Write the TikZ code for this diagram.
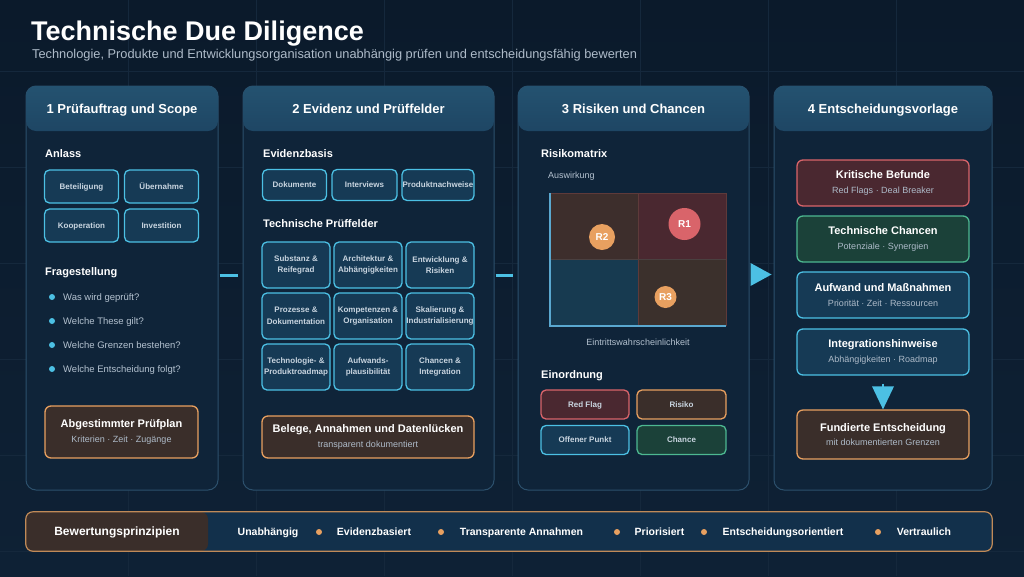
\documentclass[tikz,border=0pt]{standalone}
\usepackage{fontspec}
\setmainfont{Liberation Sans}
\usetikzlibrary{arrows.meta,calc}
\definecolor{bgtop}{HTML}{0B1A2B}
\definecolor{bgbot}{HTML}{0E2135}
\definecolor{gridc}{HTML}{15283C}
\definecolor{panelfill}{HTML}{0F2439}
\definecolor{panelborder}{HTML}{2C506C}
\definecolor{headtop}{HTML}{245270}
\definecolor{headbot}{HTML}{1E4664}
\definecolor{cyanc}{HTML}{4CC0E4}
\definecolor{cyanfill}{HTML}{163A55}
\definecolor{orangec}{HTML}{E8A060}
\definecolor{orangefill}{HTML}{3A2E2A}
\definecolor{redc}{HTML}{D9646A}
\definecolor{redfill}{HTML}{4A2830}
\definecolor{greenc}{HTML}{4DB891}
\definecolor{greenfill}{HTML}{1B4139}
\definecolor{txtgray}{HTML}{B4C2D0}
\definecolor{boxtxt}{HTML}{C9D5E0}
\definecolor{subgray}{HTML}{AEBBC9}
\definecolor{barfill}{HTML}{12304B}
\definecolor{barborder}{HTML}{C08A58}
\definecolor{qtl}{HTML}{3D2E2C}
\definecolor{qbl}{HTML}{173A50}
\definecolor{qbr}{HTML}{3B302C}
\definecolor{qline}{HTML}{5E3A3A}
\definecolor{qmid}{HTML}{4A4040}
\definecolor{axisc}{HTML}{5AA8D0}
\newcommand\fsz[2]{\fontsize{#1}{#2}\selectfont}
\begin{document}
\begin{tikzpicture}[x=1pt,y=-1pt,
  panel/.style={draw=panelborder,line width=1pt,fill=panelfill,rounded corners=10pt,minimum width=#1,minimum height=404pt,inner sep=0pt},
  headband/.style={top color=headtop,bottom color=headbot,rounded corners=10pt,minimum width=#1,minimum height=45pt,inner sep=0pt,text=white,font=\fsz{13}{15}\bfseries,text height=9.4pt,text depth=0pt},
  hd/.style={anchor=west,text=white,font=\fsz{11}{13}\bfseries,inner sep=0pt,text height=8pt,text depth=0pt},
  smallbox/.style={draw=cyanc,line width=1.3pt,fill=cyanfill,rounded corners=5pt,inner sep=0pt,text=boxtxt,font=\fsz{8}{11.5}\bfseries,align=center},
  oneline/.style={text height=5.8pt,text depth=0pt},
  tagbox/.style={line width=1.3pt,rounded corners=5pt,inner sep=0pt,text=boxtxt,font=\fsz{8}{10}\bfseries,minimum height=29pt,text height=5.8pt,text depth=0pt},
  bigbox/.style={line width=1.3pt,rounded corners=6pt,inner sep=0pt,text=subgray,font=\fsz{9}{14.5},align=center},
  bullet/.style={circle,fill=cyanc,inner sep=0pt,minimum size=6pt},
  btext/.style={anchor=west,text=txtgray,font=\fsz{9.5}{11},inner sep=0pt,text height=6.9pt,text depth=0pt},
  conn/.style={draw=cyanc,line width=3pt},
  marker/.style={circle,inner sep=0pt,text=white,font=\fsz{10}{12}\bfseries},
  item/.style={text=white,font=\fsz{10.5}{12}\bfseries,inner sep=0pt,text height=7.6pt,text depth=0pt},
  odot/.style={circle,fill=orangec,inner sep=0pt,minimum size=6pt}
]
\useasboundingbox (0,0) rectangle (1024,576);
\fill[top color=bgtop,bottom color=bgbot] (0,0) rectangle (1024,576);
\foreach \x in {128,256,...,896} \draw[gridc,line width=0.8pt] (\x,0) -- (\x,576);
\foreach \y in {71,167,263,359,455,551} \draw[gridc,line width=0.8pt] (0,\y) -- (1024,\y);

% title
\node[anchor=base west,inner sep=0pt,text=white,font=\fsz{27}{29}\bfseries] (title) at (31,40) {Technische Due Diligence};
\node[anchor=base west,inner sep=0pt,text=subgray,font=\fsz{12.8}{15}] (subtitle) at (32,58.5) {Technologie, Produkte und Entwicklungsorganisation unabhängig prüfen und entscheidungsfähig bewerten};

% panels
\node[panel=192pt] (p1) at (122,288) {};
\node[panel=251pt] (p2) at (368.5,288) {};
\node[panel=231pt] (p3) at (633.5,288) {};
\node[panel=218pt] (p4) at (883,288) {};
\node[headband=192pt] (h1) at (122,108.5) {1 Prüfauftrag und Scope};
\node[headband=251pt] (h2) at (368.5,108.5) {2 Evidenz und Prüffelder};
\node[headband=231pt] (h3) at (633.5,108.5) {3 Risiken und Chancen};
\node[headband=218pt] (h4) at (883,108.5) {4 Entscheidungsvorlage};

% column 1
\node[hd] (anlass) at (45,153) {Anlass};
\node[smallbox,oneline,minimum width=74pt,minimum height=33pt] (b11) at (81.5,186.5) {Beteiligung};
\node[smallbox,oneline,minimum width=74pt,minimum height=33pt] (b12) at (161.5,186.5) {Übernahme};
\node[smallbox,oneline,minimum width=74pt,minimum height=33pt] (b13) at (81.5,225.5) {Kooperation};
\node[smallbox,oneline,minimum width=74pt,minimum height=33pt] (b14) at (161.5,225.5) {Investition};
\node[hd] (frage) at (45,271) {Fragestellung};
\foreach \y/\t [count=\i] in {297/Was wird geprüft?,321/Welche These gilt?,345/Welche Grenzen bestehen?,369/Welche Entscheidung folgt?}{
  \node[bullet] (d\i) at (52,\y) {};
  \node[btext] (q\i) at (63,\y) {\t};
}
\node[bigbox,draw=orangec,fill=orangefill,minimum width=153pt,minimum height=52pt] (plan) at (121.5,432)
  {{\fsz{11}{14.5}\bfseries\color{white}Abgestimmter Prüfplan}\\Kriterien · Zeit · Zugänge};

% column 2
\node[hd] (evid) at (263,153) {Evidenzbasis};
\node[smallbox,oneline,minimum width=64pt,minimum height=31pt] (e1) at (294.5,185) {Dokumente};
\node[smallbox,oneline,minimum width=65pt,minimum height=31pt] (e2) at (364.5,185) {Interviews};
\node[smallbox,oneline,minimum width=72pt,minimum height=31pt] (e3) at (438,185) {Produktnachweise};
\node[hd] (tpf) at (263,223) {Technische Prüffelder};
\foreach \x/\y/\t [count=\i] in {
  296/265/{Substanz \&\\Reifegrad},
  368/265/{Architektur \&\\Abhängigkeiten},
  440/265/{Entwicklung \&\\Risiken},
  296/316/{Prozesse \&\\Dokumentation},
  368/316/{Kompetenzen \&\\Organisation},
  440/316/{Skalierung \&\\Industrialisierung},
  296/367/{Technologie- \&\\Produktroadmap},
  368/367/{Aufwands-\\plausibilität},
  440/367/{Chancen \&\\Integration}}{
  \node[smallbox,minimum width=68pt,minimum height=46pt] (g\i) at (\x,\y) {\t};
}
\node[bigbox,draw=orangec,fill=orangefill,minimum width=212pt,minimum height=42pt] (belege) at (368,437)
  {{\fsz{11}{14}\bfseries\color{white}Belege, Annahmen und Datenlücken}\\transparent dokumentiert};

% column 3
\node[hd] (rm) at (541,153) {Risikomatrix};
\node[anchor=west,inner sep=0pt,text=txtgray,font=\fsz{9}{11},text height=6.5pt,text depth=0pt] (ausw) at (548,175) {Auswirkung};
\fill[qtl] (550,193) rectangle (638,259);
\fill[redfill] (638,193) rectangle (726,259);
\fill[qbl] (550,259) rectangle (638,326);
\fill[qbr] (638,259) rectangle (726,326);
\draw[qline,line width=0.8pt] (550,193) -- (726,193) -- (726,326);
\draw[qline,line width=0.8pt] (638,193) -- (638,326);
\draw[qmid,line width=0.8pt] (550,259) -- (726,259);
\draw[axisc,line width=1.2pt] (550,193) -- (550,326) -- (726,326);
\node[marker,fill=redc,minimum size=32pt] (r1) at (684.5,224) {R1};
\node[marker,fill=orangec,minimum size=26pt] (r2) at (602,237) {R2};
\node[marker,fill=orangec,minimum size=22pt] (r3) at (665.5,297) {R3};
\node[inner sep=0pt,text=txtgray,font=\fsz{9}{11},text height=6.5pt,text depth=0pt] (eintr) at (638,342) {Eintrittswahrscheinlichkeit};
\node[hd] (einord) at (541,374) {Einordnung};
\node[tagbox,draw=redc,fill=redfill,minimum width=88pt] (t1) at (585,404.5) {Red Flag};
\node[tagbox,draw=orangec,fill=orangefill,minimum width=89pt] (t2) at (681.5,404.5) {Risiko};
\node[tagbox,draw=cyanc,fill=cyanfill,minimum width=88pt] (t3) at (585,440) {Offener Punkt};
\node[tagbox,draw=greenc,fill=greenfill,minimum width=89pt] (t4) at (681.5,440) {Chance};

% column 4
\node[bigbox,draw=redc,fill=redfill,minimum width=172pt,minimum height=46pt] (k1) at (883,183)
  {{\fsz{11}{14}\bfseries\color{white}Kritische Befunde}\\Red Flags · Deal Breaker};
\node[bigbox,draw=greenc,fill=greenfill,minimum width=172pt,minimum height=46pt] (k2) at (883,239)
  {{\fsz{11}{14}\bfseries\color{white}Technische Chancen}\\Potenziale · Synergien};
\node[bigbox,draw=cyanc,fill=cyanfill,minimum width=172pt,minimum height=46pt] (k3) at (883,295)
  {{\fsz{11}{14}\bfseries\color{white}Aufwand und Maßnahmen}\\Priorität · Zeit · Ressourcen};
\node[bigbox,draw=cyanc,fill=cyanfill,minimum width=172pt,minimum height=46pt] (k4) at (883,352)
  {{\fsz{11}{14}\bfseries\color{white}Integrationshinweise}\\Abhängigkeiten · Roadmap};
\node[bigbox,draw=orangec,fill=orangefill,minimum width=172pt,minimum height=49pt] (k5) at (883,434.5)
  {{\fsz{11}{14}\bfseries\color{white}Fundierte Entscheidung}\\mit dokumentierten Grenzen};

% connectors
\path (p1.east) ++(1,-13) coordinate (c1s);
\path (p2.west) ++(-5,-13) coordinate (c1e);
\draw[conn] (c1s) -- (c1e);
\path (p2.east) ++(1,-13) coordinate (c2s);
\path (p3.west) ++(-5,-13) coordinate (c2e);
\draw[conn] (c2s) -- (c2e);
\path (p3.east) ++(0,-13.5) coordinate (c3s);
\path (p4.west) ++(-2,-13.5) coordinate (c3e);
\fill[cyanc] (c3e) -- ($(c3s)+(1,-11.5)$) -- ($(c3s)+(1,11.5)$) -- cycle;
\draw[cyanc,line width=1.5pt] ($(k4.south)+(0,8)$) -- ($(k4.south)+(0,12)$);
\fill[cyanc] (k5.north) -- ++(-11,-23) -- ++(22,0) -- cycle;

% bottom bar
\node[fill=barfill,rounded corners=7pt,minimum width=966pt,minimum height=39pt,inner sep=0pt] (bar) at (509,531.5) {};
\node[fill=orangefill,rounded corners=7pt,minimum width=182pt,minimum height=39pt,inner sep=0pt,text=white,font=\fsz{12}{14}\bfseries,text height=8.7pt,text depth=0pt] (blabel) at (117,531.5) {Bewertungsprinzipien};
\draw[barborder,line width=1.2pt,rounded corners=7pt] (bar.north west) rectangle (bar.south east);
\node[item] (i1) at (268,532) {Unabhängig};
\node[odot] (o1) at (319,532) {};
\node[item] (i2) at (374,532) {Evidenzbasiert};
\node[odot] (o2) at (441,532) {};
\node[item] (i3) at (521.5,532) {Transparente Annahmen};
\node[odot] (o3) at (617,532) {};
\node[item] (i4) at (659.5,532) {Priorisiert};
\node[odot] (o4) at (704,532) {};
\node[item] (i5) at (783,532) {Entscheidungsorientiert};
\node[odot] (o5) at (878,532) {};
\node[item] (i6) at (924,532) {Vertraulich};
\end{tikzpicture}
\end{document}
